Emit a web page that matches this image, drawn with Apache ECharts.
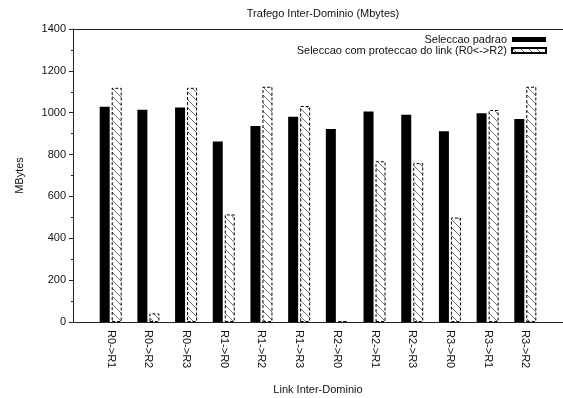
<!DOCTYPE html>
<html>
<head>
<meta charset="utf-8">
<script src="https://cdn.jsdelivr.net/npm/echarts@6/dist/echarts.min.js"></script>
<style>
html,body{margin:0;padding:0;background:#fff;}
#chart{width:563px;height:398px;}
</style>
</head>
<body>
<div id="chart"></div>
<script>
const categories = ['R0->R1','R0->R2','R0->R3','R1->R0','R1->R2','R1->R3','R2->R0','R2->R1','R2->R3','R3->R0','R3->R1','R3->R2'];
const seleccaoPadrao = [1028, 1014, 1025, 862, 937, 981, 922, 1006, 990, 911, 997, 970];
const seleccaoProteccao = [1119, 41, 1119, 514, 1124, 1032, 5, 768, 759, 499, 1013, 1124];
const yTicks = [0, 200, 400, 600, 800, 1000, 1200, 1400];

// padded category axis so the first/last bars sit one slot from the frame
const axisCats = [''].concat(categories, ['']);
const pad = arr => ['-'].concat(arr, ['-']);

function hatch() {
  const n = 8;
  const c = document.createElement('canvas');
  c.width = n; c.height = n;
  const g = c.getContext('2d');
  g.fillStyle = '#fff'; g.fillRect(0, 0, n, n);
  g.strokeStyle = '#333'; g.lineWidth = 0.7;
  g.beginPath();
  g.moveTo(-1, -1); g.lineTo(n + 1, n + 1);
  g.moveTo(-1, n - 1); g.lineTo(1, n + 1);
  g.moveTo(n - 1, -1); g.lineTo(n + 1, 1);
  g.stroke();
  return c;
}

const font = "'Liberation Sans', Arial, Helvetica, sans-serif";
const chart = echarts.init(document.getElementById('chart'), null, {renderer: 'canvas'});
chart.setOption({
  animation: false,
  backgroundColor: '#fff',
  textStyle: {fontFamily: font, color: '#111'},
  title: {
    text: 'Trafego Inter-Dominio (Mbytes)',
    left: 318, top: 3, textAlign: 'center',
    textStyle: {fontFamily: font, fontSize: 11, fontWeight: 'normal', color: '#111'}
  },
  legend: {
    orient: 'vertical', align: 'right', right: 11, top: 29,
    icon: 'rect', itemWidth: 34, itemHeight: 5, itemGap: 0,
    textStyle: {fontFamily: font, fontSize: 11, color: '#111'},
    data: ['Seleccao padrao', 'Seleccao com proteccao do link (R0<->R2)']
  },
  grid: {left: 73, right: 0, top: 29, bottom: 76, containLabel: false, outerBoundsMode: 'none'},
  xAxis: [{
    type: 'category', data: axisCats, boundaryGap: false,
    name: 'Link Inter-Dominio', nameLocation: 'middle', nameGap: 62,
    nameTextStyle: {fontFamily: font, fontSize: 11, color: '#111'},
    axisLine: {lineStyle: {color: '#222', width: 1}},
    axisTick: {show: false},
    axisLabel: {interval: 0, rotate: -90, margin: 8, fontFamily: font, fontSize: 11, color: '#111'},
    splitLine: {show: false}
  }, {
    type: 'category', data: axisCats, boundaryGap: false, position: 'top',
    axisLine: {lineStyle: {color: '#222', width: 1}},
    axisTick: {show: false}, axisLabel: {show: false}, splitLine: {show: false}
  }],
  yAxis: {
    type: 'value', min: 0, max: 1400, interval: 200,
    name: 'MBytes', nameLocation: 'middle', nameGap: 48, nameRotate: 90,
    nameTextStyle: {fontFamily: font, fontSize: 11, color: '#111'},
    axisLine: {show: true, lineStyle: {color: '#222', width: 1}},
    axisTick: {show: true, length: 4, lineStyle: {color: '#222'}},
    minorTick: {show: true, splitNumber: 2, length: 2, lineStyle: {color: '#222'}},
    axisLabel: {margin: 7, fontFamily: font, fontSize: 11, color: '#111',
      formatter: v => yTicks.indexOf(v) >= 0 ? String(v) : ''},
    splitLine: {show: false}
  },
  series: [{
    name: 'Seleccao padrao', type: 'bar', xAxisIndex: 0,
    data: pad(seleccaoPadrao), barWidth: 10, barGap: '20%',
    itemStyle: {color: '#000'}
  }, {
    name: 'Seleccao com proteccao do link (R0<->R2)', type: 'bar', xAxisIndex: 0,
    data: pad(seleccaoProteccao), barWidth: 10, barGap: '20%',
    itemStyle: {
      color: {image: hatch(), repeat: 'repeat'},
      borderColor: '#000', borderWidth: 1, borderType: [3, 2]
    }
  }]
});
</script>
</body>
</html>
